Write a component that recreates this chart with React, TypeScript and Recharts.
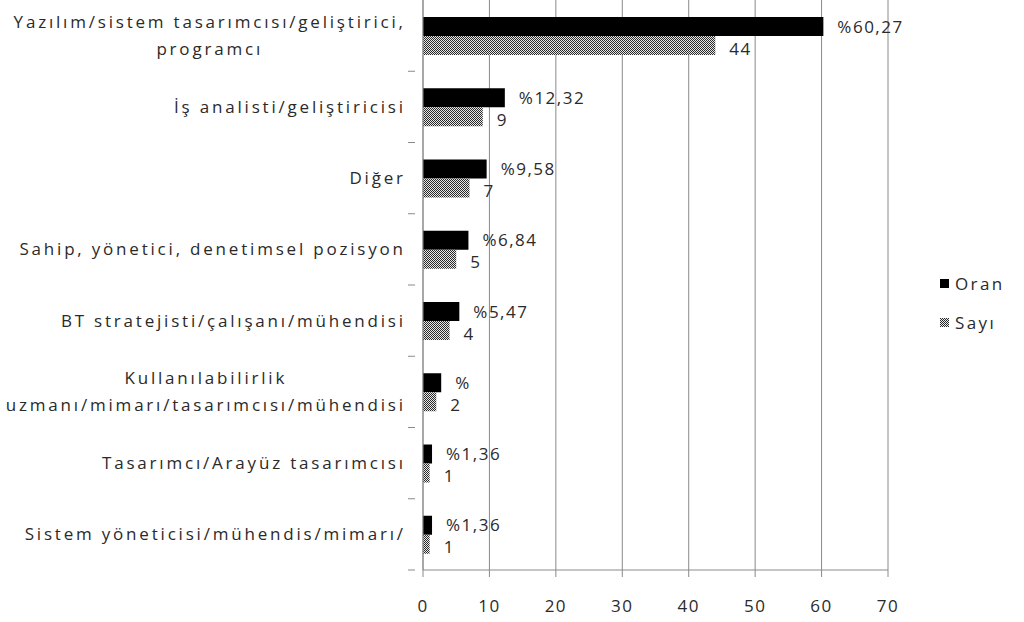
import { Bar, BarChart, CartesianGrid, LabelList, Legend, XAxis, YAxis } from "recharts";

const categories = [
  "Yazılım/sistem tasarımcısı/geliştirici,\nprogramcı",
  "İş analisti/geliştiricisi",
  "Diğer",
  "Sahip, yönetici, denetimsel pozisyon",
  "BT stratejisti/çalışanı/mühendisi",
  "Kullanılabilirlik\nuzmanı/mimarı/tasarımcısı/mühendisi",
  "Tasarımcı/Arayüz tasarımcısı",
  "Sistem yöneticisi/mühendis/mimarı/",
];
const oran = [60.27, 12.32, 9.58, 6.84, 5.47, 2.74, 1.36, 1.36];
const oranLabels = ["%60,27", "%12,32", "%9,58", "%6,84", "%5,47", "%", "%1,36", "%1,36"];
const sayi = [44, 9, 7, 5, 4, 2, 1, 1];
const xTicks = [0, 10, 20, 30, 40, 50, 60, 70];

const data = categories.map((name, i) => ({
  name,
  oran: oran[i],
  oranLabel: oranLabels[i],
  sayi: sayi[i],
}));

const FONT = "'Open Sans', sans-serif";
const TEXT = "#2a2a2a";
const GRID = "#8a8a8a";
const FONT_SIZE = 17;
const LS = 2.8; // the original labels are spaced wide
const NUM_LS = 1.5;

let measureCtx: CanvasRenderingContext2D | null = null;
function textWidth(s: string) {
  if (!measureCtx) measureCtx = document.createElement("canvas").getContext("2d");
  if (!measureCtx) return s.length * (9 + LS);
  measureCtx.font = `${FONT_SIZE}px 'Open Sans'`;
  return measureCtx.measureText(s).width + s.length * LS;
}

function CategoryTick(props: any) {
  const { x, y, payload } = props;
  const lines = String(payload.value).split("\n");
  const lineH = 27;
  const right = x - 12 + LS;
  const maxW = Math.max(...lines.map(textWidth));
  const cx = right - maxW / 2;
  const startY = y - ((lines.length - 1) * lineH) / 2;
  const band = 570 / categories.length;
  return (
    <g>
      {lines.map((l, i) => (
        <text
          key={i}
          x={lines.length > 1 ? cx : right}
          y={startY + i * lineH}
          dy="0.35em"
          textAnchor={lines.length > 1 ? "middle" : "end"}
          fontFamily={FONT}
          fontSize={FONT_SIZE}
          letterSpacing={LS}
          fill={TEXT}
        >
          {l}
        </text>
      ))}
      <line x1={x - 7} x2={x} y1={y + band / 2} y2={y + band / 2} stroke={GRID} />
    </g>
  );
}

function LegendContent() {
  const items = [
    { label: "Oran", fill: "#000" },
    { label: "Sayı", fill: "url(#hatch)" },
  ];
  return (
    <div style={{ paddingLeft: 52 }}>
      {items.map((it) => (
        <div key={it.label} style={{ height: 39, display: "flex", alignItems: "center" }}>
          <svg width={9} height={9} style={{ marginRight: 6 }}>
            <rect width={9} height={9} fill={it.fill} />
          </svg>
          <span style={{ fontFamily: FONT, fontSize: FONT_SIZE, color: TEXT, letterSpacing: 2.4 }}>
            {it.label}
          </span>
        </div>
      ))}
    </div>
  );
}

export default function App() {
  return (
    <div style={{ position: "absolute", left: 0, top: 0, background: "#fff" }}>
      <BarChart
        width={1024}
        height={622}
        data={data}
        layout="vertical"
        margin={{ top: 0, right: 0, bottom: 0, left: 0 }}
        barGap={0}
        barSize={19}
      >
        <defs>
          <pattern id="hatch" width={2} height={2} patternUnits="userSpaceOnUse">
            <rect width={2} height={2} fill="#e8e8e8" />
            <rect x={0} y={0} width={1} height={1} fill="#2a2a2a" />
            <rect x={1} y={1} width={1} height={1} fill="#2a2a2a" />
          </pattern>
        </defs>
        <CartesianGrid horizontal={false} stroke={GRID} />
        <XAxis
          type="number"
          domain={[0, 70]}
          ticks={xTicks}
          interval={0}
          height={52}
          stroke={GRID}
          tickSize={7}
          tick={{ fontFamily: FONT, fontSize: FONT_SIZE, fill: TEXT, dy: 21, letterSpacing: NUM_LS }}
        />
        <YAxis
          type="category"
          dataKey="name"
          width={423}
          stroke={GRID}
          tickLine={false}
          tick={<CategoryTick />}
          interval={0}
        />
        <Legend
          layout="vertical"
          align="right"
          verticalAlign="middle"
          width={136}
          wrapperStyle={{ top: 264 }}
          content={<LegendContent />}
        />
        <Bar dataKey="oran" name="Oran" fill="#000" isAnimationActive={false}>
          <LabelList
            dataKey="oranLabel"
            position="right"
            offset={14}
            fontFamily={FONT}
            fontSize={FONT_SIZE}
            letterSpacing={NUM_LS}
            fill={TEXT}
          />
        </Bar>
        <Bar dataKey="sayi" name="Sayı" fill="url(#hatch)" isAnimationActive={false}>
          <LabelList
            dataKey="sayi"
            position="right"
            offset={14}
            dy={3}
            fontFamily={FONT}
            fontSize={FONT_SIZE}
            letterSpacing={NUM_LS}
            fill={TEXT}
          />
        </Bar>
      </BarChart>
    </div>
  );
}
